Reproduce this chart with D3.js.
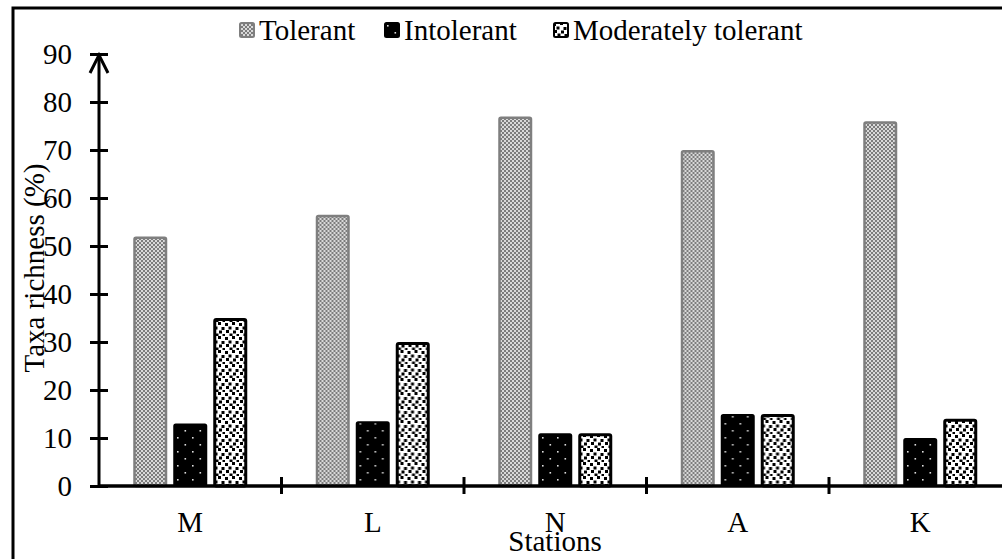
<!DOCTYPE html>
<html>
<head>
<meta charset="utf-8">
<script src="https://cdn.jsdelivr.net/npm/d3@7/dist/d3.min.js"></script>
<style>
html,body{margin:0;padding:0;background:#fff;}
svg{display:block;}
text{font-family:"Liberation Serif","Times New Roman",serif;fill:#000;}
</style>
</head>
<body>
<svg id="chart" width="1002" height="559"></svg>
<script>
const stations = ["M","L","N","A","K"];
const series = ["Tolerant","Intolerant","Moderately tolerant"];
const tolerant = [52, 56.5, 77, 70, 76];
const intolerant = [13, 13.5, 11, 15, 10];
const moderate = [35, 30, 11, 15, 14];
const yTicks = [0,10,20,30,40,50,60,70,80,90];

const values = [tolerant, intolerant, moderate];
const svg = d3.select("#chart");
const W = 1002, H = 559;
const x0Start = 99, yBase = 486, yTop = 54;
const band = 182.5;
const FS = "29px";

const x0 = d3.scaleBand().domain(stations).range([x0Start, x0Start + band*stations.length]).padding(0);
const x1 = d3.scaleBand().domain(series).range([0, x0.bandwidth()]).paddingInner(0.15).paddingOuter(0.856);
const y = d3.scaleLinear().domain([0,90]).range([yBase, yTop]);

// patterns
const defs = svg.append("defs");
const p1 = defs.append("pattern").attr("id","pTol").attr("patternUnits","userSpaceOnUse").attr("width",4).attr("height",4);
p1.append("rect").attr("width",4).attr("height",4).attr("fill","#7c7c7c");
p1.append("rect").attr("x",0).attr("y",0).attr("width",2).attr("height",2).attr("fill","#d9d9d9");
p1.append("rect").attr("x",2).attr("y",2).attr("width",2).attr("height",2).attr("fill","#d9d9d9");

const p2 = defs.append("pattern").attr("id","pInt").attr("patternUnits","userSpaceOnUse").attr("width",15).attr("height",14);
p2.append("rect").attr("width",15).attr("height",14).attr("fill","#000");
p2.append("rect").attr("x",3).attr("y",3).attr("width",1.6).attr("height",1.6).attr("fill","#ddd");
p2.append("rect").attr("x",10.5).attr("y",10).attr("width",1.6).attr("height",1.6).attr("fill","#ddd");

const p3 = defs.append("pattern").attr("id","pMod").attr("patternUnits","userSpaceOnUse").attr("width",14).attr("height",14);
p3.append("rect").attr("width",14).attr("height",14).attr("fill","#fff");
[[0,1],[7,0],[3.5,4.5],[10.5,5],[1,8],[8,8.5],[4.5,11.5],[11.5,12]].forEach(([a,b])=>{
  p3.append("rect").attr("x",a).attr("y",b).attr("width",3).attr("height",3).attr("fill","#000");
});

const fills = {"Tolerant":"url(#pTol)","Intolerant":"url(#pInt)","Moderately tolerant":"url(#pMod)"};
const strokes = {"Tolerant":"#7f7f7f","Intolerant":"#000","Moderately tolerant":"#000"};
const sw = {"Tolerant":2.5,"Intolerant":2,"Moderately tolerant":3};

// frame
svg.append("rect").attr("x",13).attr("y",8).attr("width",1100).attr("height",700)
  .attr("fill","none").attr("stroke","#000").attr("stroke-width",3);

// bars
const groups = svg.append("g").selectAll("g").data(stations).join("g")
  .attr("transform", d => `translate(${x0(d)},0)`);
groups.selectAll("rect").data((d,i) => series.map((s,k) => ({s, v: values[k][i]}))).join("rect")
  .attr("x", d => x1(d.s) + sw[d.s]/2)
  .attr("width", d => x1.bandwidth() - sw[d.s])
  .attr("y", d => y(d.v) + sw[d.s]/2)
  .attr("height", d => yBase - y(d.v) - sw[d.s]/2)
  .attr("rx", 1.5)
  .attr("fill", d => fills[d.s])
  .attr("stroke", d => strokes[d.s])
  .attr("stroke-width", d => sw[d.s]);

// y axis
const yAxis = d3.axisLeft(y).tickValues(yTicks).tickSize(0).tickPadding(0);
const gy = svg.append("g").attr("transform",`translate(${x0Start},0)`).call(yAxis);
gy.select(".domain").remove();
gy.selectAll(".tick text").attr("x",-27).attr("dy","0.34em").style("font-size",FS).attr("fill","#000");
gy.selectAll(".tick").append("line").attr("x1",-9).attr("x2",9).attr("stroke","#000").attr("stroke-width",3);
svg.append("line").attr("x1",x0Start).attr("x2",x0Start).attr("y1",yBase).attr("y2",y(90)).attr("stroke","#000").attr("stroke-width",3);
svg.append("path").attr("d",`M${x0Start-9},${y(90)+19} L${x0Start},${y(90)+1} L${x0Start+9},${y(90)+19}`)
  .attr("fill","none").attr("stroke","#000").attr("stroke-width",3);

// x axis
const xAxis = d3.axisBottom(x0).tickSize(0).tickPadding(0);
const gx = svg.append("g").attr("transform",`translate(0,${yBase})`).call(xAxis);
gx.select(".domain").remove();
gx.selectAll(".tick text").attr("y",46).attr("dy",0).style("font-size",FS).attr("fill","#000");
svg.append("line").attr("x1",x0Start).attr("x2",W+20).attr("y1",yBase).attr("y2",yBase).attr("stroke","#000").attr("stroke-width",3.5);
const bounds = stations.map(s => x0(s) + x0.bandwidth());
svg.append("g").selectAll("line").data(bounds).join("line")
  .attr("x1",d=>d).attr("x2",d=>d).attr("y1",yBase-9).attr("y2",yBase+8)
  .attr("stroke","#000").attr("stroke-width",3);

// axis titles
svg.append("text").attr("x",555).attr("y",551).attr("text-anchor","middle").style("font-size",FS).text("Stations");
svg.append("text").attr("transform","translate(44,268) rotate(-90)").attr("text-anchor","middle").style("font-size",FS).text("Taxa richness (%)");

// legend
const legX = [239, 384, 553];
const lg = svg.append("g").selectAll("g").data(series).join("g")
  .attr("transform",(d,i)=>`translate(${legX[i]},22)`);
lg.append("rect").attr("x",1).attr("y",1).attr("width",14).attr("height",14).attr("rx",1.5)
  .attr("fill",d=>fills[d]).attr("stroke",d=>strokes[d]).attr("stroke-width",2);
lg.append("text").attr("x",20).attr("y",18).style("font-size",FS).text(d=>d);
</script>
</body>
</html>
